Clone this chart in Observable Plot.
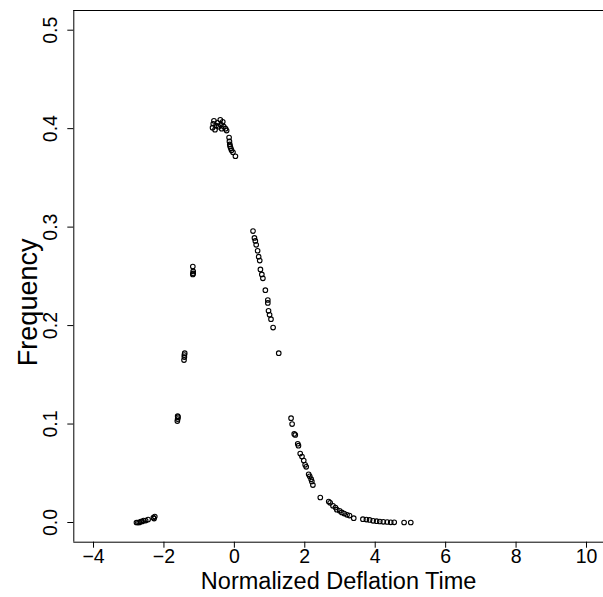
<!DOCTYPE html>
<html>
<head>
<meta charset="utf-8">
<script src="https://cdn.jsdelivr.net/npm/d3@7"></script>
<script src="https://cdn.jsdelivr.net/npm/@observablehq/plot@0.6"></script>
<style>
  html, body { margin: 0; padding: 0; background: #fff; }
  #chart svg { display: block; }
</style>
</head>
<body>
<div id="chart"></div>
<script>
// Normalized deflation time (x) and frequency (y)
const deflationTime = [
  -2.78, -2.74, -2.70, -2.66, -2.62, -2.58, -2.52, -2.45, -2.30, -2.28, -2.26,
  -1.62, -1.61, -1.60, -1.61,
  -1.43, -1.42, -1.42, -1.41,
  -1.18, -1.17, -1.18, -1.17,
  -0.62, -0.60, -0.58, -0.55, -0.52, -0.48, -0.45, -0.40, -0.38, -0.36, -0.33, -0.30, -0.25, -0.22,
  -0.15, -0.14, -0.13, -0.12, -0.10, -0.08, -0.04, 0.03,
  0.53, 0.57, 0.595, 0.62, 0.66, 0.69, 0.72, 0.74, 0.78, 0.81, 0.88, 0.95, 0.95, 0.97, 1.00, 1.04, 1.10, 1.26,
  1.61, 1.64, 1.70, 1.73, 1.80, 1.82, 1.87, 1.92, 1.97, 2.01, 2.04, 2.11, 2.14, 2.18, 2.20, 2.23,
  2.44, 2.68, 2.72, 2.80, 2.87, 2.91, 2.99, 3.05, 3.12, 3.20, 3.27, 3.39,
  3.65, 3.75, 3.84, 3.94, 4.04, 4.13, 4.23, 4.34, 4.44, 4.54, 4.82, 5.01
];
const frequency = [
  0.000, 0.000, 0.000, 0.001, 0.001, 0.002, 0.002, 0.003, 0.005, 0.004, 0.006,
  0.103, 0.105, 0.107, 0.108,
  0.165, 0.168, 0.170, 0.172,
  0.260, 0.255, 0.252, 0.253,
  0.401, 0.405, 0.408, 0.399, 0.403, 0.406, 0.402, 0.409, 0.404, 0.400, 0.407, 0.402, 0.400, 0.398,
  0.391, 0.387, 0.384, 0.382, 0.380, 0.378, 0.376, 0.372,
  0.296, 0.289, 0.286, 0.282, 0.276, 0.270, 0.266, 0.257, 0.252, 0.248, 0.236, 0.226, 0.223, 0.215, 0.211, 0.2065, 0.198, 0.172,
  0.106, 0.100, 0.090, 0.089, 0.080, 0.078, 0.070, 0.067, 0.063, 0.0586, 0.0566, 0.049, 0.047, 0.044, 0.0417, 0.038,
  0.0254, 0.0213, 0.020, 0.017, 0.0152, 0.013, 0.0119, 0.0102, 0.0091, 0.0078, 0.007, 0.0044,
  0.0034, 0.003, 0.0026, 0.0017, 0.0014, 0.001, 0.0007, 0.0005, 0.0002, 0.0002, 0.0, 0.0
];
const xTicks = [-4, -2, 0, 2, 4, 6, 8, 10];
const yTicks = [0.0, 0.1, 0.2, 0.3, 0.4, 0.5];
const xTitle = "Normalized Deflation Time";
const yTitle = "Frequency";

const xDomain = [-4.56, 10.483];
const yDomain = [-0.02, 0.52];

const points = deflationTime.map((x, i) => ({x, y: frequency[i]}));
const font = "'Liberation Sans', Arial, Helvetica, sans-serif";

const chart = Plot.plot({
  width: 603,
  height: 597,
  marginLeft: 73.3,
  marginRight: 0,
  marginTop: 10,
  marginBottom: 55.3,
  style: {fontFamily: font, background: "#fff", color: "#000"},
  x: {domain: xDomain},
  y: {domain: yDomain},
  marks: [
    Plot.ruleY([yDomain[1]], {stroke: "#000", strokeWidth: 1}),
    Plot.ruleX([xDomain[0]], {stroke: "#000", strokeWidth: 1}),
    Plot.ruleY([yDomain[0]], {stroke: "#000", strokeWidth: 1}),
    Plot.axisX({ticks: xTicks, tickSize: 6, tickPadding: 1, tickFormat: d => d < 0 ? "\u2212" + Math.abs(d) : String(d), fontSize: 19.5, label: null, stroke: "#000"}),
    Plot.axisY({ticks: yTicks, tickSize: 6, tickPadding: 11, tickRotate: -90, tickFormat: d => d.toFixed(1), fontSize: 19.5, label: null, stroke: "#000"}),
    Plot.dot(points, {x: "x", y: "y", r: 2.3, stroke: "#000", strokeWidth: 1.1, fill: "none"}),
    Plot.text([xTitle], {frameAnchor: "bottom", dy: 46.3, lineAnchor: "bottom", fontSize: 23.5, fill: "#000"}),
    Plot.text([yTitle], {frameAnchor: "left", dx: -37, dy: 26, rotate: -90, textAnchor: "middle", lineAnchor: "bottom", fontSize: 27, fill: "#000"})
  ]
});
document.getElementById("chart").appendChild(chart);
</script>
</body>
</html>
